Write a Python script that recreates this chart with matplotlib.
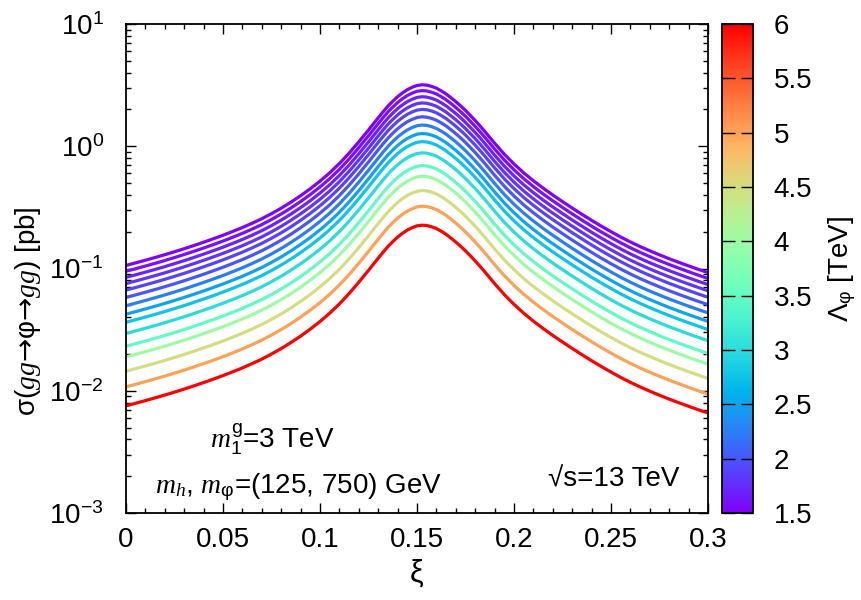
import numpy as np
import matplotlib
matplotlib.use('Agg')
import matplotlib.pyplot as plt
from matplotlib import colors, cm
from matplotlib.ticker import MultipleLocator, LogLocator, NullFormatter

plt.rcParams['font.family'] = ['Liberation Sans', 'DejaVu Sans']
plt.rcParams['mathtext.fontset'] = 'custom'
plt.rcParams['mathtext.rm'] = 'Liberation Sans'
plt.rcParams['mathtext.it'] = 'Liberation Serif:italic'
plt.rcParams['mathtext.bf'] = 'Liberation Sans:bold'
plt.rcParams['mathtext.sf'] = 'DejaVu Sans'
plt.rcParams['axes.unicode_minus'] = False

# Lambda_phi values [TeV] of the curves (colour) and their peak cross sections [pb]
lambda_tev = [1.5, 1.6, 1.7, 1.8, 1.9, 2.0, 2.25, 2.5, 2.75, 3.0, 3.5, 4.0, 4.5, 5.0, 6.0]
peak_pb = [3.18, 2.85, 2.54, 2.26, 2.00, 1.74, 1.49, 1.27, 1.09, 0.883, 0.694, 0.568,
           0.434, 0.323, 0.226]

# shape of the Lambda = 1.5 TeV curve
xi_ref = [0.000, 0.005, 0.010, 0.015, 0.020, 0.025, 0.030, 0.035, 0.040, 0.045,
          0.050, 0.055, 0.060, 0.065, 0.070, 0.075, 0.080, 0.085, 0.090, 0.095,
          0.100, 0.105, 0.110, 0.115, 0.120,
          0.1225, 0.125, 0.1275, 0.130, 0.1325, 0.135, 0.1375, 0.140, 0.1425, 0.145,
          0.1475, 0.150, 0.1525, 0.155, 0.1575, 0.160, 0.1625, 0.165, 0.1675, 0.170,
          0.1725, 0.175, 0.1775, 0.180, 0.1825, 0.185, 0.1875, 0.190, 0.1925, 0.195,
          0.200, 0.205, 0.210, 0.215, 0.220, 0.225, 0.230, 0.235, 0.240, 0.245,
          0.250, 0.255, 0.260, 0.265, 0.270, 0.275, 0.280, 0.285, 0.290, 0.295, 0.300]
sigma_ref = [0.1059, 0.1112, 0.1169, 0.1230, 0.1297, 0.1371, 0.1452, 0.1542, 0.1641, 0.1750,
             0.1871, 0.2009, 0.2163, 0.2344, 0.2553, 0.2809, 0.3115, 0.3487, 0.3939, 0.4493,
             0.5182, 0.6060, 0.7220, 0.8780, 1.086,
             1.216, 1.357, 1.524, 1.708, 1.910, 2.126, 2.333, 2.541, 2.729, 2.901,
             3.034, 3.141, 3.181, 3.162, 3.090, 2.985, 2.838, 2.677, 2.495, 2.317,
             2.138, 1.961, 1.786, 1.622, 1.466, 1.318, 1.182, 1.059, 0.955, 0.861,
             0.716, 0.606, 0.522, 0.4545, 0.399, 0.3524, 0.3122, 0.2777, 0.2477, 0.2220,
             0.2000, 0.1809, 0.1648, 0.1512, 0.1395, 0.1293, 0.1202, 0.1122, 0.1050, 0.0984,
             0.0925]

x_ticks = [0, 0.05, 0.1, 0.15, 0.2, 0.25, 0.3]
x_tick_labels = ['0', '0.05', '0.1', '0.15', '0.2', '0.25', '0.3']
cb_ticks = [1.5, 2, 2.5, 3, 3.5, 4, 4.5, 5, 5.5, 6]
cb_tick_labels = ['1.5', '2', '2.5', '3', '3.5', '4', '4.5', '5', '5.5', '6']

FS = 20
fig = plt.figure(figsize=(8.61, 6.0), dpi=100)
W, H = 861.0, 600.0
ax = fig.add_axes([126 / W, 1 - 513 / H, (708 - 126) / W, (513 - 24) / H])

norm = colors.Normalize(vmin=1.5, vmax=6.0)
cmap = plt.get_cmap('rainbow')

xi_arr = np.array(xi_ref)
sig_arr = np.array(sigma_ref)
for lam, pk in zip(lambda_tev, peak_pb):
    ax.plot(xi_arr, sig_arr * pk / peak_pb[0], color=cmap(norm(lam)), lw=2.3,
            solid_capstyle='butt', solid_joinstyle='round')

ax.set_yscale('log')
ax.set_xlim(0, 0.3)
ax.set_ylim(1e-3, 1e1)
ax.set_xticks(x_ticks)
ax.set_xticklabels(x_tick_labels)
ax.xaxis.set_minor_locator(MultipleLocator(0.01))
ax.yaxis.set_major_locator(LogLocator(base=10, numticks=10))
ax.yaxis.set_minor_locator(LogLocator(base=10, subs=np.arange(2, 10), numticks=20))
ax.yaxis.set_minor_formatter(NullFormatter())
ax.tick_params(which='both', direction='in', top=True, right=True, width=1.0,
               labelsize=FS)
ax.tick_params(which='major', length=7)
ax.tick_params(which='minor', length=3.5)
ax.tick_params(axis='x', which='major', pad=10)
ax.tick_params(axis='y', which='major', pad=16)
for s in ax.spines.values():
    s.set_linewidth(1.3)

ax.set_xlabel('ξ', fontsize=FS + 2, labelpad=4)
ax.set_ylabel(r'σ($gg$$\mathsf{→}$φ$\mathsf{→}$$gg$) [pb]', fontsize=FS)
ax.yaxis.set_label_coords(-0.142, 0.413)

ax.text(0.145, 0.15, r'$m_{\mathrm{1}}^{\mathrm{g}}$=3 TeV', transform=ax.transAxes,
        fontsize=FS, ha='left', va='center')
ax.text(0.05, 0.052, r'$m_h$, $m_{\mathrm{φ}}$=(125, 750) GeV', transform=ax.transAxes,
        fontsize=FS, ha='left', va='center')
ax.text(0.95, 0.068, '√s=13 TeV', transform=ax.transAxes,
        fontsize=FS, ha='right', va='center')

cax = fig.add_axes([722 / W, 1 - 513 / H, (753 - 722) / W, (513 - 24) / H])
sm = cm.ScalarMappable(norm=norm, cmap=cmap)
cb = fig.colorbar(sm, cax=cax)
cb.set_ticks(cb_ticks)
cb.set_ticklabels(cb_tick_labels)
cb.minorticks_off()
cb.outline.set_linewidth(1.3)
cax.tick_params(which='both', direction='in', left=True, right=True, length=9,
                width=1.0, labelsize=FS, pad=15)
cb.set_label(r'$\mathrm{Λ}_{\mathrm{φ}}$ [TeV]', fontsize=FS, labelpad=10)

fig.savefig('out.png', dpi=100)
